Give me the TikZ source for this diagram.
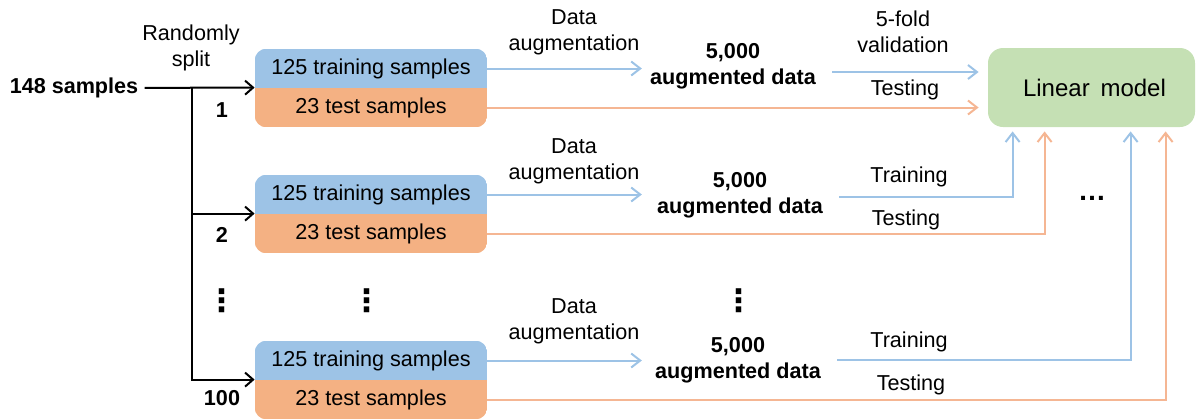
\documentclass[tikz,border=0pt]{standalone}
\usepackage{fontspec}
\setmainfont{Liberation Sans}
\newfontfamily\symbolfont{DejaVu Sans}
\usetikzlibrary{arrows.meta,positioning,backgrounds}
\definecolor{TrainBlue}{HTML}{9DC3E6}
\definecolor{TestOrange}{HTML}{F4B183}
\definecolor{ModelGreen}{HTML}{C5E0B4}
\definecolor{TrainLine}{HTML}{9DC3E6}
\definecolor{TestLine}{HTML}{F5B693}

\begin{document}
\begin{tikzpicture}[
  x=0.5pt,y=-0.5pt,
  font=\fontsize{10.8}{13}\selectfont,
  half/.style={rectangle,minimum width=116pt,minimum height=19.5pt,inner sep=0pt},
  note/.style={align=center,inner sep=1pt},
  count/.style={align=center,inner sep=3pt,font=\fontsize{10.8}{13}\selectfont\bfseries},
  model/.style={rectangle,rounded corners=7.5pt,fill=ModelGreen,
    minimum width=103.5pt,minimum height=39.5pt,font=\fontsize{12}{14}\selectfont},
  dots/.style={inner sep=0pt,font=\fontsize{15.5}{15.5}\symbolfont\bfseries},
  splitarrow/.style={-{Straight Barb[length=4pt,width=7pt]},line width=1pt,draw=black},
  trainarrow/.style={-{Straight Barb[length=4.5pt,width=7pt]},line width=1pt,draw=TrainLine},
  testarrow/.style={-{Straight Barb[length=4.5pt,width=7pt]},line width=1pt,draw=TestLine}
]
\useasboundingbox (0,0) rectangle (1201,419);

\node[count] (src) at (74,88) {148 samples};
\node[note] (rand) at (191,48) {Randomly\\split};
\coordinate (fork) at (192,88);

% three random splits: training half on top, test half below
\foreach \i/\y in {1/88,2/214,3/380}{
  \node[half] (tr\i) at (371,\y-19.5) {125 training samples};
  \node[half] (te\i) at (371,\y+19.5) {23 test samples};
}
\begin{scope}[on background layer]
\foreach \i in {1,2,3}{
  \begin{scope}
    \clip[rounded corners=6pt] (tr\i.north west) rectangle (te\i.south east);
    \fill[TrainBlue] (tr\i.north west) rectangle (tr\i.south east);
    \fill[TestOrange] (te\i.north west) rectangle (te\i.south east);
  \end{scope}
}
\end{scope}

\node[count] (n1) at (222,110) {1};
\node[count] (n2) at (222,235) {2};
\node[count] (n3) at (222,398) {100};

\node[dots] (dv1) at (222,301) {⋮};
\node[dots] (dv2) at (367,301) {⋮};
\node[dots] (dv3) at (739,301) {⋮};

\draw[splitarrow] (src) -- (te1.north west);
\draw[splitarrow] (fork |- te2.north) -- (te2.north west);
\draw[splitarrow] (fork) |- (te3.north west);

% augmentation of each training half
\node[note] (da1) at (574,32) {Data\\augmentation};
\node[note] (da2) at (574,161) {Data\\augmentation};
\node[note] (da3) at (574,321) {Data\\augmentation};
\node[count] (aug1) at (733,66) {5,000\\augmented data};
\node[count] (aug2) at (740,195) {5,000\\augmented data};
\node[count] (aug3) at (738,360) {5,000\\augmented data};
\foreach \i in {1,2,3}
  \draw[trainarrow] (tr\i.east) -- (tr\i.east -| da\i.east);

\node[model] (lm) at (1091.5,87.5) {\hspace{3pt}Linear\hspace{0.45em}model};
\coordinate (in2) at ([xshift=12.5pt]lm.south west);
\coordinate (out2) at ([xshift=28.5pt]lm.south west);
\coordinate (in3) at ([xshift=71.5pt]lm.south west);
\coordinate (out3) at ([xshift=89pt]lm.south west);

% first split: cross-validation and testing
\node[note] (cv1) at (903,32) {5-fold\\validation};
\node[note] (tst1) at (905,90) {Testing};
\draw[trainarrow,shorten <=5pt,shorten >=4.5pt] ([yshift=-3pt]aug1.east) -- ([yshift=-3pt]aug1.east -| lm.west);
\draw[testarrow,shorten >=4.5pt] (te1.east) -- (te1.east -| lm.west);

% other splits feed the model from below
\node[note] (trn2) at (909,177) {Training};
\node[note] (tst2) at (906,220) {Testing};
\node[note] (trn3) at (909,342) {Training};
\node[note] (tst3) at (911,385) {Testing};
\draw[trainarrow,shorten <=5pt,shorten >=2pt] ([yshift=-1pt]aug2.east) -| (in2);
\draw[testarrow,shorten >=2pt] (te2.east) -| (out2);
\draw[trainarrow,shorten <=5pt,shorten >=2pt] (aug3.east) -| (in3);
\draw[testarrow,shorten >=2pt] (te3.east) -| (out3);

\node[inner sep=0pt,font=\fontsize{14}{14}\selectfont\bfseries] (more) at (1092,198) {…};
\end{tikzpicture}
\end{document}
